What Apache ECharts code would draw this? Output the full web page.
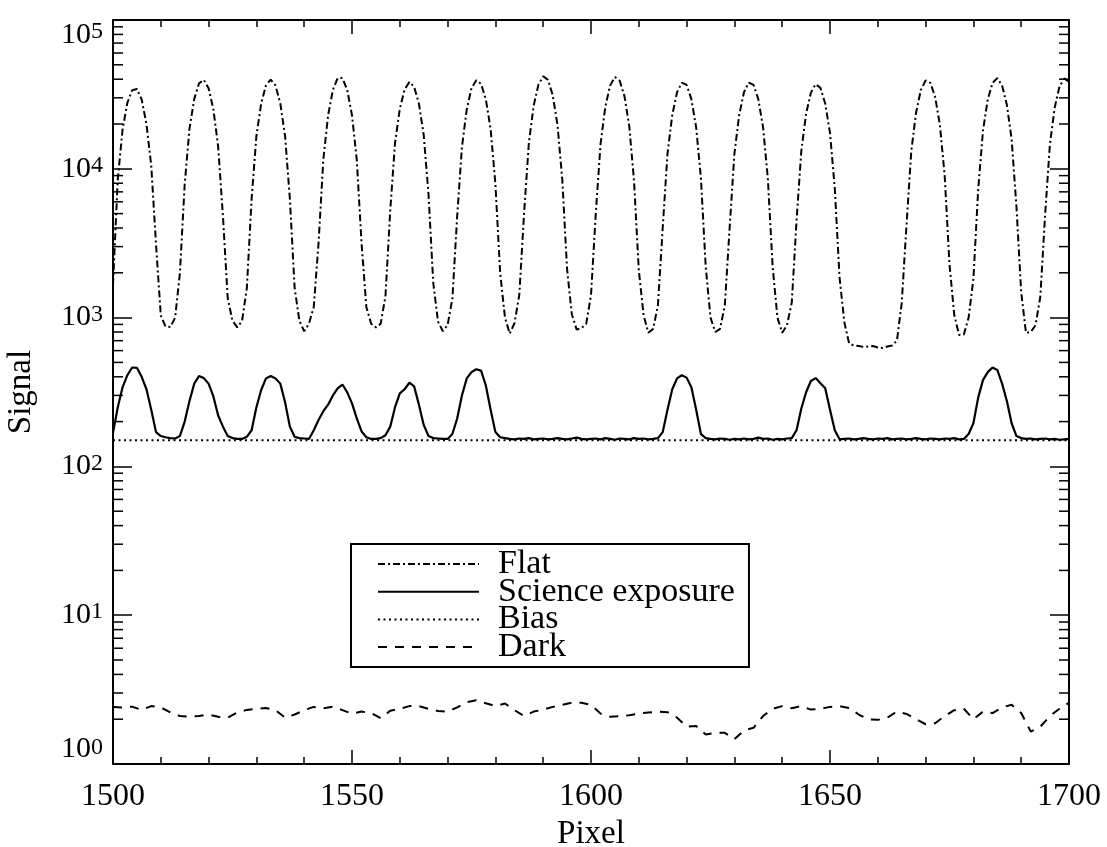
<!DOCTYPE html>
<html><head><meta charset="utf-8">
<script src="https://cdn.jsdelivr.net/npm/echarts@6/dist/echarts.min.js"></script>
<style>html,body{margin:0;padding:0;background:#fff}#chart{width:1107px;height:847px}</style>
</head><body><div id="chart"></div>
<script>
// ---- data (one value per detector pixel, starting at startPixel) ----
const startPixel = 1500;
const flatValues = [
  1650, 8500, 18300, 27700, 33700, 34400, 29200, 20000, 10500, 3100,
  1030, 870, 865, 1000, 2000, 7900, 18600, 29500, 37500, 39600,
  34800, 25100, 14100, 4800, 1350, 950, 860, 950, 1580, 6300,
  16600, 27500, 36300, 39800, 36300, 27500, 16600, 6300, 1580, 950,
  810, 910, 1180, 3160, 11500, 22900, 33900, 40700, 40700, 33900,
  22900, 11500, 3160, 1180, 910, 860, 910, 1390, 5250, 14900,
  25300, 34100, 38300, 35500, 27400, 16900, 6800, 1710, 940, 810,
  890, 1340, 4760, 14000, 25000, 34800, 39400, 37200, 29300, 18500,
  7900, 1990, 1000, 780, 920, 1420, 5040, 14900, 26500, 36800,
  41900, 39600, 31200, 19600, 8400, 2100, 1050, 830, 850, 910,
  1410, 5000, 14700, 26200, 36300, 41300, 39100, 30800, 19400, 8300,
  2080, 1040, 790, 840, 1210, 4000, 12600, 23000, 32700, 37900,
  36600, 29400, 19000, 8600, 2200, 1000, 800, 840, 1210, 4000,
  12600, 23000, 32700, 37900, 36600, 29400, 19000, 8600, 2200, 1000,
  790, 890, 1260, 4470, 13200, 23400, 32500, 37000, 35000, 27500,
  17400, 7400, 1860, 930, 670, 650, 645, 635, 640, 645,
  630, 625, 640, 650, 700, 1250, 4150, 13100, 23800, 33800,
  39200, 37800, 30400, 19600, 8900, 2270, 1040, 765, 770, 1000,
  1820, 7240, 18000, 29200, 37800, 40700, 36300, 26900, 15800, 5600,
  1480, 790, 800, 890, 1380, 4900, 14500, 25700, 35600, 40500,
  38400
];
const scienceValues = [
  168, 250, 340, 410, 462, 460, 400, 330, 240, 170,
  160, 157, 155, 154, 160, 200, 275, 360, 405, 392,
  360, 295, 220, 185, 160, 155, 153, 153, 158, 175,
  250, 326, 390, 405, 390, 360, 270, 185, 158, 155,
  154, 153, 175, 205, 235, 260, 300, 335, 355, 315,
  265, 210, 172, 157, 153, 153, 155, 162, 185, 250,
  310, 330, 365, 345, 260, 190, 160, 155, 154, 153,
  153, 165, 210, 300, 390, 430, 450, 440, 350, 240,
  170, 157, 155, 153, 152, 154, 153, 155, 152, 153,
  154, 152, 153, 155, 153, 152, 154, 156, 153, 152,
  153, 154, 152, 155, 153, 151, 154, 153, 152, 155,
  153, 154, 152, 153, 155, 170, 240, 330, 390, 410,
  395, 340, 240, 165, 155, 153, 152, 154, 153, 151,
  153, 152, 154, 152, 153, 156, 153, 154, 151, 153,
  152, 154, 155, 175, 245, 315, 375, 392, 362, 335,
  240, 175, 152, 153, 154, 152, 153, 155, 153, 152,
  154, 153, 155, 152, 153, 154, 152, 153, 155, 153,
  152, 154, 153, 152, 154, 153, 155, 152, 153, 165,
  195, 290, 380, 430, 462, 445, 360, 275, 195, 160,
  155, 153, 154, 152, 153, 154, 152, 153, 151, 152,
  153
];
const biasStep = 10;
const biasValues = [150, 150, 150, 150, 150, 150, 150, 150, 150, 150, 150,
                    150, 150, 150, 150, 150, 150, 150, 150, 150, 150];
const darkStep = 2;
const darkValues = [
  2.42, 2.40, 2.43, 2.31, 2.45, 2.40, 2.22, 2.10, 2.08, 2.10,
  2.15, 2.08, 2.05, 2.22, 2.31, 2.35, 2.38, 2.30, 2.05, 2.15,
  2.30, 2.42, 2.37, 2.43, 2.30, 2.18, 2.25, 2.20, 2.03, 2.28,
  2.35, 2.45, 2.45, 2.35, 2.27, 2.25, 2.40, 2.60, 2.68, 2.56,
  2.45, 2.55, 2.30, 2.10, 2.25, 2.32, 2.42, 2.50, 2.58, 2.58,
  2.50, 2.18, 2.08, 2.10, 2.13, 2.18, 2.22, 2.25, 2.23, 2.05,
  1.78, 1.80, 1.58, 1.62, 1.62, 1.47, 1.68, 1.75, 2.10, 2.35,
  2.45, 2.37, 2.45, 2.32, 2.35, 2.42, 2.45, 2.38, 2.15, 2.00,
  1.98, 2.05, 2.25, 2.17, 2.00, 1.85, 1.88, 2.10, 2.30, 2.35,
  2.00, 2.25, 2.20, 2.40, 2.50, 2.20, 1.65, 1.78, 2.10, 2.35,
  2.58
];
const seriesNames = ['Flat', 'Science exposure', 'Bias', 'Dark'];
const xMin = 1500, xMax = 1700, xInterval = 50;
const yMin = 1, yMax = 100000;
const minorMultipliers = [2, 3, 4, 5, 6, 7, 8, 9];
const decades = [1, 10, 100, 1000, 10000];

// ---- build ----
const F = "'Liberation Serif','Times New Roman',serif";
const toPairs = (arr, step) => arr.map((v, i) => [startPixel + i * step, v]);
const minorTickValues = [];
decades.forEach(d => minorMultipliers.forEach(m => minorTickValues.push(m * d)));

const chart = echarts.init(document.getElementById('chart'), null, {renderer: 'canvas'});
const axisLineStyle = {color: '#000', width: 2};
const tickLineStyle = {color: '#000', width: 1.5};
const yLabel = {
  formatter: v => {
    const e = Math.round(Math.log10(v));
    return e === 0 ? '{b0|10}{s0|' + e + '}' : '{b|10}{s|' + e + '}';
  },
  margin: 10,
  verticalAlignMinLabel: 'bottom',
  verticalAlignMaxLabel: 'top',
  rich: {
    b: {fontSize: 30, fontFamily: F, color: '#000'},
    s: {fontSize: 24, fontFamily: F, color: '#000', verticalAlign: 'top'},
    b0: {fontSize: 30, fontFamily: F, color: '#000', lineHeight: 22, verticalAlign: 'bottom'},
    s0: {fontSize: 24, fontFamily: F, color: '#000', lineHeight: 24, verticalAlign: 'bottom', padding: [0, 0, 4, 0]}
  }
};
const option = {
  animation: false,
  backgroundColor: '#fff',
  grid: {left: 113, right: 38, top: 20, bottom: 83, containLabel: false, outerBoundsMode: 'none'},
  xAxis: [
    {
      type: 'value', min: xMin, max: xMax, interval: xInterval, position: 'bottom',
      name: 'Pixel', nameLocation: 'middle', nameGap: 47,
      nameTextStyle: {fontSize: 33, fontFamily: F, color: '#000'},
      axisLine: {show: true, onZero: false, lineStyle: axisLineStyle},
      axisTick: {show: true, inside: true, length: 14, lineStyle: tickLineStyle},
      minorTick: {show: true, splitNumber: 5, length: 7, lineStyle: tickLineStyle},
      axisLabel: {fontSize: 32, fontFamily: F, color: '#000', margin: 17, formatter: v => String(v)},
      splitLine: {show: false}
    },
    {
      type: 'value', min: xMin, max: xMax, interval: xInterval, position: 'top',
      axisLine: {show: true, onZero: false, lineStyle: axisLineStyle},
      axisTick: {show: true, inside: true, length: 14, lineStyle: tickLineStyle},
      minorTick: {show: true, splitNumber: 5, length: 7, lineStyle: tickLineStyle},
      axisLabel: {show: false},
      splitLine: {show: false}
    }
  ],
  yAxis: [
    {
      type: 'log', logBase: 10, min: yMin, max: yMax, position: 'left',
      name: 'Signal', nameLocation: 'middle', nameGap: 75, nameRotate: 90,
      nameTextStyle: {fontSize: 33, fontFamily: F, color: '#000'},
      axisLine: {show: true, onZero: false, lineStyle: axisLineStyle},
      axisTick: {show: true, inside: true, length: 19, lineStyle: tickLineStyle},
      axisLabel: yLabel,
      splitLine: {show: false}
    },
    {
      type: 'log', logBase: 10, min: yMin, max: yMax, position: 'right',
      axisLine: {show: true, onZero: false, lineStyle: axisLineStyle},
      axisTick: {show: true, inside: true, length: 19, lineStyle: tickLineStyle},
      axisLabel: {show: false},
      splitLine: {show: false}
    }
  ],
  legend: {
    orient: 'vertical', left: 351, top: 544,
    data: seriesNames,
    itemWidth: 101, itemHeight: 10, itemGap: -6.3,
    padding: [3, 14, 3, 26],
    borderColor: '#000', borderWidth: 2, borderRadius: 0,
    backgroundColor: '#fff',
    selectedMode: false,
    itemStyle: {color: 'rgba(0,0,0,0)', borderWidth: 0, opacity: 0},
    textStyle: {fontSize: 34, fontFamily: F, color: '#000', padding: [0, 0, 0, 14]}
  },
  series: [
    {
      name: 'Flat', type: 'line', data: toPairs(flatValues, 1), symbol: 'none',
      lineStyle: {color: '#000', width: 2, type: [7, 3, 2, 3]}, itemStyle: {color: '#000'}
    },
    {
      name: 'Science exposure', type: 'line', data: toPairs(scienceValues, 1), symbol: 'none',
      lineStyle: {color: '#000', width: 2.2, type: 'solid'}, itemStyle: {color: '#000'}
    },
    {
      name: 'Bias', type: 'line', data: toPairs(biasValues, biasStep), symbol: 'none',
      lineStyle: {color: '#000', width: 2, type: [2, 3.5]}, itemStyle: {color: '#000'}
    },
    {
      name: 'Dark', type: 'line', data: toPairs(darkValues, darkStep), symbol: 'none',
      lineStyle: {color: '#000', width: 2, type: [9, 8]}, itemStyle: {color: '#000'}
    },
    {
      name: 'minorTicks', type: 'custom', silent: true, clip: false, z: 5,
      data: minorTickValues.map(v => [startPixel, v]),
      renderItem: (params, api) => {
        const v = api.value(1);
        const l = api.coord([xMin, v]);
        const r = api.coord([xMax, v]);
        return {type: 'group', children: [
          {type: 'line', shape: {x1: l[0], y1: l[1], x2: l[0] + 10, y2: l[1]}, style: {stroke: '#000', lineWidth: 1.5}},
          {type: 'line', shape: {x1: r[0] - 10, y1: r[1], x2: r[0], y2: r[1]}, style: {stroke: '#000', lineWidth: 1.5}}
        ]};
      }
    }
  ]
};
chart.setOption(option);
</script></body></html>
